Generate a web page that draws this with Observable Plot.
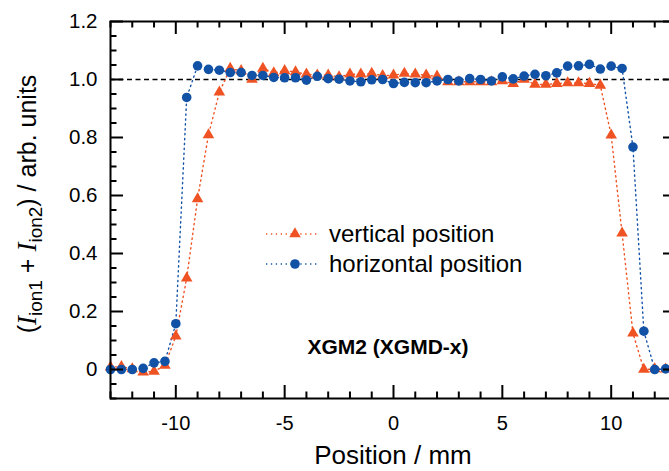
<!DOCTYPE html>
<html>
<head>
<meta charset="utf-8">
<script src="https://cdn.jsdelivr.net/npm/d3@7"></script>
<script src="https://cdn.jsdelivr.net/npm/@observablehq/plot@0.6"></script>
<style>
  html, body { margin: 0; padding: 0; background: #fff; overflow: hidden; width: 669px; height: 471px; }
  #chart { width: 690px; }
</style>
</head>
<body>
<div id="chart"></div>
<script>
// ---- data ----
const positions = [
  -13, -12.5, -12, -11.5, -11, -10.5, -10, -9.5, -9, -8.5, -8, -7.5, -7,
  -6.5, -6, -5.5, -5, -4.5, -4, -3.5, -3, -2.5, -2, -1.5, -1, -0.5,
  0, 0.5, 1, 1.5, 2, 2.5, 3, 3.5, 4, 4.5, 5, 5.5, 6, 6.5, 7, 7.5,
  8, 8.5, 9, 9.5, 10, 10.5, 11, 11.5, 12, 12.5
];
const verticalSignal = [
  0.008, 0.010, 0.002, -0.009, -0.007, 0.014, 0.115, 0.315, 0.588, 0.809, 0.956, 1.038, 1.030,
  1.000, 1.038, 1.023, 1.030, 1.026, 1.018, 1.015, 1.015, 1.009, 1.018, 1.018, 1.021, 1.013,
  1.015, 1.021, 1.018, 1.015, 1.011, 0.992, 0.992, 0.992, 0.992, 0.992, 0.995, 0.986, 1.000, 0.983, 0.983, 0.986,
  0.988, 0.988, 0.986, 0.980, 0.808, 0.470, 0.125, 0.000, 0.002, 0.001
];
const horizontalSignal = [
  0.000, 0.000, 0.000, 0.004, 0.023, 0.028, 0.158, 0.938, 1.047, 1.035, 1.032, 1.024, 1.024,
  1.014, 1.014, 1.007, 1.006, 1.006, 0.998, 1.011, 1.003, 1.001, 0.995, 0.992, 0.999, 1.000,
  0.986, 0.990, 0.989, 0.989, 0.995, 1.000, 0.995, 1.003, 1.000, 0.995, 1.009, 1.002, 1.012, 1.018, 1.013, 1.023,
  1.046, 1.047, 1.052, 1.036, 1.046, 1.038, 0.767, 0.132, 0.000, 0.002
];
const seriesLabels = ["vertical position", "horizontal position"];
const xTickLabels = [-10, -5, 0, 5, 10];
const yTickLabels = [0, 0.2, 0.4, 0.6, 0.8, 1.0, 1.2];
const referenceLevel = [1.0];
const xTitle = "Position / mm";
const annotation = "XGM2 (XGMD-x)";

// ---- styling ----
const orange = "#EF5323";
const blue = "#1252A6";
const W = 690, H = 471;
const mL = 110, mR = 14, mT = 21, mB = 73;
const PW = W - mL - mR, PH = H - mT - mB;

const rows = positions.map((p, i) => ({position: p, vertical: verticalSignal[i], horizontal: horizontalSignal[i]}));
const xMinor = d3.range(-13, 13.001, 1).filter(v => !xTickLabels.includes(v));
const yAll = d3.range(-0.1, 1.2001, 0.05).map(v => +v.toFixed(2));
const yMajor = yAll.filter(v => Math.abs(Math.round(v * 5) - v * 5) < 1e-6);
const yMinor = yAll.filter(v => !yMajor.includes(v));

const tickStyle = {stroke: "black", strokeWidth: 2};
const majorLen = 13, minorLen = 6.5;

const plot = Plot.plot({
  width: W, height: H,
  marginLeft: mL, marginRight: mR, marginTop: mT, marginBottom: mB,
  x: {domain: [-13, 13], label: null},
  y: {domain: [-0.1, 1.2], label: null},
  style: {fontFamily: "'Liberation Sans', Arial, sans-serif", background: "white", color: "black", overflow: "visible"},
  marks: [
    Plot.ruleY(referenceLevel, {stroke: "black", strokeWidth: 1.6, strokeDasharray: "5,3.5"}),
    Plot.line(rows, {x: "position", y: "vertical", stroke: orange, strokeWidth: 1.4, strokeDasharray: "1.3,3.6"}),
    Plot.line(rows, {x: "position", y: "horizontal", stroke: blue, strokeWidth: 1.4, strokeDasharray: "1.3,3.6"}),
    Plot.dot(rows, {x: "position", y: "vertical", symbol: "triangle", r: 4.3, fill: orange}),
    Plot.dot(rows, {x: "position", y: "horizontal", symbol: "circle", r: 4.8, fill: blue}),
    // inward ticks: bottom / top
    Plot.tickX(xTickLabels, {x: d => d, insetTop: PH - majorLen, ...tickStyle}),
    Plot.tickX(xMinor, {x: d => d, insetTop: PH - minorLen, ...tickStyle}),
    Plot.tickX(xTickLabels, {x: d => d, insetBottom: PH - majorLen, ...tickStyle}),
    Plot.tickX(xMinor, {x: d => d, insetBottom: PH - minorLen, ...tickStyle}),
    // inward ticks: left / right
    Plot.tickY(yMajor, {y: d => d, insetRight: PW - majorLen, ...tickStyle}),
    Plot.tickY(yMinor, {y: d => d, insetRight: PW - minorLen, ...tickStyle}),
    Plot.tickY(yMajor, {y: d => d, insetLeft: PW - majorLen, ...tickStyle}),
    Plot.tickY(yMinor, {y: d => d, insetLeft: PW - minorLen, ...tickStyle}),
    Plot.frame({stroke: "black", strokeWidth: 2}),
    Plot.axisX({ticks: xTickLabels, tickSize: 0, tickPadding: 17, fontSize: 20, label: null, tickFormat: d => String(d)}),
    Plot.axisY({ticks: yTickLabels, tickSize: 0, tickPadding: 13, fontSize: 20.5, label: null, tickFormat: d => d === 0 ? "0" : d3.format(".1f")(d)})
  ]
});

document.getElementById("chart").appendChild(plot);

// ---- titles, legend and annotation ----
const svg = d3.select(plot);
const sans = "'Liberation Sans', Arial, sans-serif";
const serif = "'Liberation Serif', 'Times New Roman', serif";

svg.append("text")
  .attr("x", 393).attr("y", 464)
  .attr("text-anchor", "middle")
  .attr("font-family", sans).attr("font-size", 26).attr("fill", "black")
  .text(xTitle);

const yt = svg.append("text")
  .attr("transform", "translate(36,204) rotate(-90)")
  .attr("text-anchor", "middle")
  .attr("font-family", sans).attr("font-size", 25).attr("fill", "black");
yt.append("tspan").text("(");
yt.append("tspan").attr("font-family", serif).attr("font-style", "italic").attr("font-size", 27).text("I");
yt.append("tspan").attr("font-size", 19).attr("dy", 6).text("ion1");
yt.append("tspan").attr("dy", -6).text(" + ");
yt.append("tspan").attr("font-family", serif).attr("font-style", "italic").attr("font-size", 27).text("I");
yt.append("tspan").attr("font-size", 19).attr("dy", 6).text("ion2");
yt.append("tspan").attr("dy", -6).text(") / arb. units");

const legend = [
  {label: seriesLabels[0], color: orange, sym: d3.symbolTriangle, size: Math.PI * 4.3 * 4.3, y: 234},
  {label: seriesLabels[1], color: blue, sym: d3.symbolCircle, size: Math.PI * 4.8 * 4.8, y: 264}
];
const lg = svg.append("g");
legend.forEach(d => {
  lg.append("line").attr("x1", 266).attr("x2", 317).attr("y1", d.y).attr("y2", d.y)
    .attr("stroke", d.color).attr("stroke-width", 1.4).attr("stroke-dasharray", "1.3,3.6");
  lg.append("path").attr("d", d3.symbol(d.sym, d.size)()).attr("transform", `translate(295,${d.y})`).attr("fill", d.color);
  lg.append("text").attr("x", 329).attr("y", d.y).attr("dy", "0.35em")
    .attr("text-anchor", "start")
    .attr("font-family", sans).attr("font-size", 24).attr("fill", "black").text(d.label);
});

svg.append("text")
  .attr("x", 388).attr("y", 354)
  .attr("text-anchor", "middle")
  .attr("font-family", sans).attr("font-weight", "bold").attr("font-size", 21).attr("fill", "black")
  .text(annotation);
</script>
</body>
</html>
